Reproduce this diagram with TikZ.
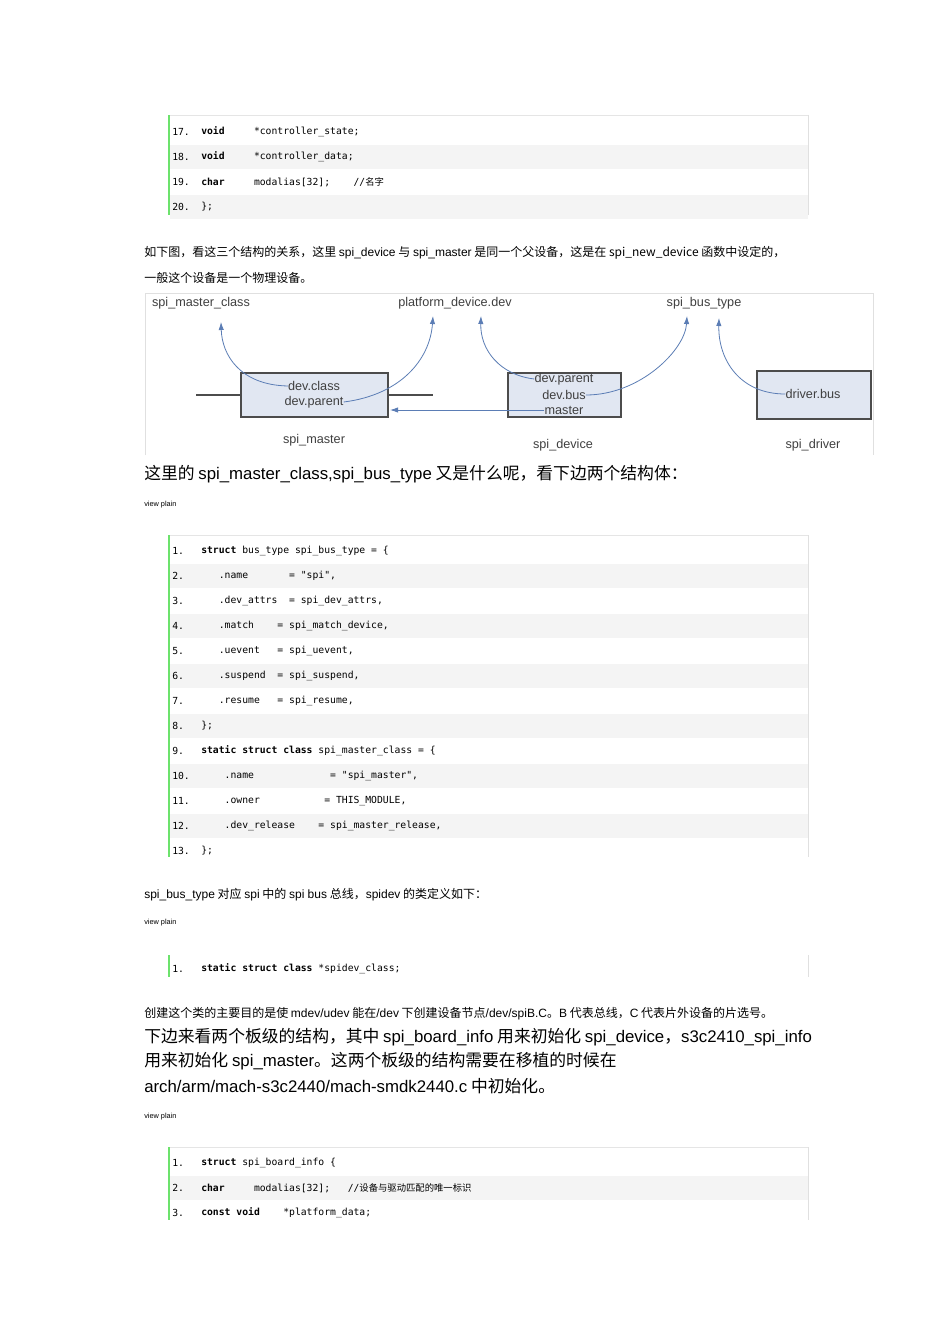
\documentclass[tikz,border=0pt]{standalone}
\usepackage{fontspec}
\setmainfont{Noto Sans CJK SC}
\newfontfamily\lat{Liberation Sans}
\newfontfamily\cmono{DejaVu Sans Mono}
\usetikzlibrary{arrows.meta}
\definecolor{codegray}{HTML}{F4F4F4}
\definecolor{bar}{HTML}{6CE26C}
\definecolor{boxfill}{HTML}{E1E7F2}
\definecolor{arr}{HTML}{5B7DB5}
\tikzset{
  x=0.75pt,y=-0.75pt,
  code/.style={anchor=west,inner sep=0pt,font=\cmono\fontsize{7.3}{8}\selectfont},
  prose/.style={anchor=west,inner sep=0pt,font=\fontsize{9}{11}\selectfont},
  big/.style={anchor=west,inner sep=0pt,font=\fontsize{12.6}{15}\selectfont},
  small/.style={anchor=west,inner sep=0pt,font=\lat\fontsize{5.5}{6}\selectfont},
  dlabel/.style={inner sep=0pt,text=black!75,font=\lat\fontsize{9.5}{11}\selectfont},
  sbox/.style={draw=black!70,line width=1.2pt,fill=boxfill,inner sep=0pt},
  link/.style={arr,line width=0.6pt,-{Latex[length=6pt,width=4pt]}},
}
\newcommand{\stripe}[1]{\fill[codegray] (170,#1-12) rectangle (808,#1+12);}
\newcommand{\frameblock}[2]{\draw[black!12] (808,#1) -- (808,#2); \fill[bar] (168,#1) rectangle (170,#2);}
\begin{document}
\begin{tikzpicture}
\useasboundingbox[fill=white] (0,0) rectangle (950,1344);
% block 1
\draw[black!10] (170,115) -- (808,115);
\stripe{157}\stripe{207}
\frameblock{115}{215}
\node[code] (a17) at (172,132) {17.};\node[code] (b17) at (201,132) {\textbf{void}\ \ \ \ \ *controller\_state;};
\node[code] (a18) at (172,157) {18.};\node[code] (b18) at (201,157) {\textbf{void}\ \ \ \ \ *controller\_data;};
\node[code] (a19) at (172,182) {19.};\node[code] (b19) at (201,182) {\textbf{char}\ \ \ \ \ modalias[32];\ \ \ \ //{\fontsize{7}{8}\selectfont\normalfont 名字}};
\node[code] (a20) at (172,207) {20.};\node[code] (b20) at (201,207) {\};};
\node[prose] (p1) at (144,253) {如下图，看这三个结构的关系，这里 {\lat spi\_device} 与 {\lat spi\_master} 是同一个父设备，这是在 spi\_new\_device 函数中设定的，};
\node[prose] (p2) at (144,278) {一般这个设备是一个物理设备。};
% diagram
\draw[black!12] (145,455) -- (145,293) -- (873,293) -- (873,455);
\node[dlabel] (mc) at (201,303) {spi\_master\_class};
\node[dlabel] (pd) at (455,303) {platform\_device.dev};
\node[dlabel] (bt) at (704,303) {spi\_bus\_type};
\node[sbox,minimum width=147\pgflinewidth] (m) at (314.5,395) {};
\draw[sbox] (241,373) rectangle (388,417);
\draw[sbox] (508,373) rectangle (621,417);
\draw[sbox] (757,371) rectangle (871,419);
\coordinate (mright) at (390,410);
\node[dlabel] (mcls) at (314,386) {dev.class};
\node[dlabel] (mpar) at (314,402) {dev.parent};
\node[dlabel] (dpar) at (564,379) {dev.parent};
\node[dlabel] (dbus) at (564,395) {dev.bus};
\node[dlabel] (dmas) at (564,410) {master};
\node[dlabel] (drb) at (813,394) {driver.bus};
\node[dlabel] (cm) at (314,440) {spi\_master};
\node[dlabel] (cd) at (563,445) {spi\_device};
\node[dlabel] (cr) at (813,445) {spi\_driver};
\coordinate (t1) at (221,322);
\coordinate (t2) at (433,316);
\coordinate (t3) at (481,316);
\coordinate (t4) at (687,316);
\coordinate (t5) at (719,318);
\draw[link] (mcls.west) .. controls (240,385) and (222,355) .. (t1);
\draw[link] (mpar.east) .. controls (400,395) and (430,360) .. (t2);
\draw[link] (dpar.west) .. controls (500,375) and (480,350) .. (t3);
\draw[link] (dbus.east) .. controls (640,395) and (685,350) .. (t4);
\draw[link] (drb.west) .. controls (740,394) and (718,360) .. (t5);
\draw[link] (dmas.west) -- (mright);
\node[big] (p3) at (144,474) {这里的 {\lat spi\_master\_class,spi\_bus\_type} 又是什么呢，看下边两个结构体：};
\node[small] (v1) at (144,505) {view plain};
% block 2
\draw[black!10] (170,535) -- (808,535);
\stripe{576}\stripe{626}\stripe{676}\stripe{726}\stripe{776}\stripe{826}
\frameblock{535}{857}
\node[code] (n1) at (172,551) {1.};\node[code] (c1) at (201,551) {\textbf{struct} bus\_type spi\_bus\_type = \{};
\node[code] (n2) at (172,576) {2.};\node[code] (c2) at (201,576) {\ \ \ .name\ \ \ \ \ \ \ = "spi",};
\node[code] (n3) at (172,601) {3.};\node[code] (c3) at (201,601) {\ \ \ .dev\_attrs\ \ = spi\_dev\_attrs,};
\node[code] (n4) at (172,626) {4.};\node[code] (c4) at (201,626) {\ \ \ .match\ \ \ \ = spi\_match\_device,};
\node[code] (n5) at (172,651) {5.};\node[code] (c5) at (201,651) {\ \ \ .uevent\ \ \ = spi\_uevent,};
\node[code] (n6) at (172,676) {6.};\node[code] (c6) at (201,676) {\ \ \ .suspend\ \ = spi\_suspend,};
\node[code] (n7) at (172,701) {7.};\node[code] (c7) at (201,701) {\ \ \ .resume\ \ \ = spi\_resume,};
\node[code] (n8) at (172,726) {8.};\node[code] (c8) at (201,726) {\};};
\node[code] (n9) at (172,751) {9.};\node[code] (c9) at (201,751) {\textbf{static struct class} spi\_master\_class = \{};
\node[code] (n10) at (172,776) {10.};\node[code] (c10) at (201,776) {\ \ \ \ .name\ \ \ \ \ \ \ \ \ \ \ \ \ = "spi\_master",};
\node[code] (n11) at (172,801) {11.};\node[code] (c11) at (201,801) {\ \ \ \ .owner\ \ \ \ \ \ \ \ \ \ \ = THIS\_MODULE,};
\node[code] (n12) at (172,826) {12.};\node[code] (c12) at (201,826) {\ \ \ \ .dev\_release\ \ \ \ = spi\_master\_release,};
\node[code] (n13) at (172,851) {13.};\node[code] (c13) at (201,851) {\};};
\node[prose] (p4) at (144,895) {{\lat spi\_bus\_type} 对应 {\lat spi} 中的 {\lat spi bus} 总线，{\lat spidev} 的类定义如下：};
\node[small] (v2) at (144,923) {view plain};
% block 3
\frameblock{955}{977}
\node[code] (m1) at (172,969) {1.};\node[code] (d1) at (201,969) {\textbf{static struct class} *spidev\_class;};
\node[prose] (p5) at (144,1014) {创建这个类的主要目的是使 {\lat mdev/udev} 能在{\lat /dev} 下创建设备节点{\lat /dev/spiB.C}。{\lat B} 代表总线，{\lat C} 代表片外设备的片选号。};
\node[big] (p6) at (144,1037) {下边来看两个板级的结构，其中 {\lat spi\_board\_info} 用来初始化 {\lat spi\_device}，{\lat s3c2410\_spi\_info}};
\node[big] (p7) at (144,1061) {用来初始化 {\lat spi\_master}。这两个板级的结构需要在移植的时候在};
\node[big] (p8) at (144,1086) {{\lat arch/arm/mach-s3c2440/mach-smdk2440.c} 中初始化。};
\node[small] (v3) at (144,1117) {view plain};
% block 4
\draw[black!10] (170,1147) -- (808,1147);
\stripe{1188}
\frameblock{1147}{1220}
\node[code] (k1) at (172,1163) {1.};\node[code] (e1) at (201,1163) {\textbf{struct} spi\_board\_info \{};
\node[code] (k2) at (172,1188) {2.};\node[code] (e2) at (201,1188) {\textbf{char}\ \ \ \ \ modalias[32];\ \ \ //{\fontsize{7}{8}\selectfont\normalfont 设备与驱动匹配的唯一标识}};
\node[code] (k3) at (172,1213) {3.};\node[code] (e3) at (201,1213) {\textbf{const void}\ \ \ \ *platform\_data;};
\end{tikzpicture}
\end{document}
